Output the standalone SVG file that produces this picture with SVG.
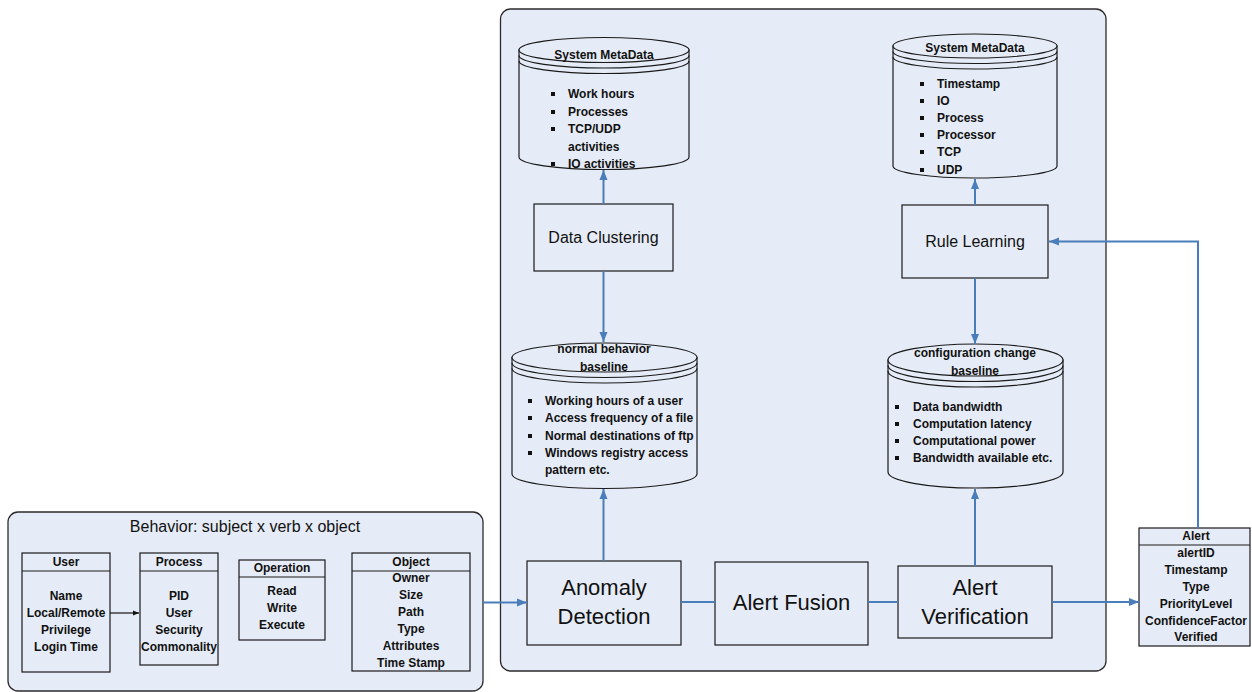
<svg xmlns="http://www.w3.org/2000/svg" width="1252" height="692" viewBox="0 0 1252 692">
<defs>
<style>
.cont{fill:#e6ecf7;stroke:#2b2b2b;stroke-width:1.3}
.box{fill:#e6ecf7;stroke:#1a1a1a;stroke-width:1.2}
.ln{fill:none;stroke:#1a1a1a;stroke-width:1.2}
.conn{fill:none;stroke:#4a7ebb;stroke-width:2}
.b{font-family:"Liberation Sans",Arial,sans-serif;font-weight:bold;font-size:12px;fill:#111}
.c{text-anchor:middle}
.r16{font-family:"Liberation Sans",Arial,sans-serif;font-size:16px;fill:#111;text-anchor:middle}
.r22{font-family:"Liberation Sans",Arial,sans-serif;font-size:22px;fill:#111;text-anchor:middle}
.bul{fill:#111}
</style>
<marker id="ah" viewBox="0 0 10 10" refX="10" refY="5" markerWidth="10" markerHeight="10" markerUnits="userSpaceOnUse" orient="auto">
<path d="M0,1 L10,5 L0,9 Z" fill="#4a7ebb"/>
</marker>
<marker id="ahk" viewBox="0 0 10 10" refX="10" refY="5" markerWidth="7" markerHeight="6" markerUnits="userSpaceOnUse" orient="auto">
<path d="M0,1 L10,5 L0,9 Z" fill="#111"/>
</marker>
</defs>
<rect width="1252" height="692" fill="#ffffff"/>

<g id="container">
<rect class="cont" x="500.5" y="9" width="605.5" height="662" rx="10"/>
</g>

<g id="behavior">
<rect class="cont" x="8" y="512" width="475" height="179" rx="10"/>
<text class="r16" x="245" y="532">Behavior: subject x verb x object</text>
</g>

<g id="user">
<rect class="box" x="22" y="553" width="88" height="119"/>
<line class="ln" x1="22" y1="571" x2="110" y2="571"/>
<text class="b c" x="66" y="566">User</text>
<text class="b c" x="66" y="600">Name</text>
<text class="b c" x="66" y="617">Local/Remote</text>
<text class="b c" x="66" y="634">Privilege</text>
<text class="b c" x="66" y="651">Login Time</text>
</g>

<g id="process">
<rect class="box" x="140" y="553" width="78" height="112"/>
<line class="ln" x1="140" y1="571" x2="218" y2="571"/>
<text class="b c" x="179" y="566">Process</text>
<text class="b c" x="179" y="600">PID</text>
<text class="b c" x="179" y="617">User</text>
<text class="b c" x="179" y="634">Security</text>
<text class="b c" x="179" y="651">Commonality</text>
</g>

<g id="operation">
<rect class="box" x="239" y="560" width="86" height="80"/>
<line class="ln" x1="239" y1="577" x2="325" y2="577"/>
<text class="b c" x="282" y="572">Operation</text>
<text class="b c" x="282" y="595">Read</text>
<text class="b c" x="282" y="612">Write</text>
<text class="b c" x="282" y="629">Execute</text>
</g>

<g id="object">
<rect class="box" x="352" y="553" width="118" height="118"/>
<line class="ln" x1="352" y1="571" x2="470" y2="571"/>
<text class="b c" x="411" y="566">Object</text>
<text class="b c" x="411" y="582">Owner</text>
<text class="b c" x="411" y="599">Size</text>
<text class="b c" x="411" y="616">Path</text>
<text class="b c" x="411" y="633">Type</text>
<text class="b c" x="411" y="650">Attributes</text>
<text class="b c" x="411" y="667">Time Stamp</text>
</g>

<g id="sysmeta-left">
<path class="box" d="M519,50 V157 A85,12.5 0 0 0 689,157 V50 Z"/>
<ellipse class="box" cx="604" cy="50" rx="85" ry="12.5"/>
<path class="ln" d="M519,55.5 A85,12.5 0 0 0 689,55.5 M519,61 A85,12.5 0 0 0 689,61"/>
<text class="b c" x="604" y="59">System MetaData</text>
<rect class="bul" x="551" y="92" width="4" height="4"/>
<text class="b" x="568" y="98">Work hours</text>
<rect class="bul" x="551" y="110" width="4" height="4"/>
<text class="b" x="568" y="116">Processes</text>
<rect class="bul" x="551" y="127" width="4" height="4"/>
<text class="b" x="568" y="133">TCP/UDP</text>
<text class="b" x="568" y="151">activities</text>
<rect class="bul" x="551" y="162" width="4" height="4"/>
<text class="b" x="568" y="168">IO activities</text>
</g>

<g id="sysmeta-right">
<path class="box" d="M893,46 V166 A82,12 0 0 0 1057,166 V46 Z"/>
<ellipse class="box" cx="975" cy="46" rx="82" ry="12"/>
<path class="ln" d="M893,51.5 A82,12 0 0 0 1057,51.5 M893,57 A82,12 0 0 0 1057,57"/>
<text class="b c" x="975" y="52">System MetaData</text>
<rect class="bul" x="920" y="82" width="4" height="4"/>
<text class="b" x="937" y="88">Timestamp</text>
<rect class="bul" x="920" y="99" width="4" height="4"/>
<text class="b" x="937" y="105">IO</text>
<rect class="bul" x="920" y="116" width="4" height="4"/>
<text class="b" x="937" y="122">Process</text>
<rect class="bul" x="920" y="133" width="4" height="4"/>
<text class="b" x="937" y="139">Processor</text>
<rect class="bul" x="920" y="150" width="4" height="4"/>
<text class="b" x="937" y="156">TCP</text>
<rect class="bul" x="920" y="168" width="4" height="4"/>
<text class="b" x="937" y="174">UDP</text>
</g>

<g id="normal-baseline">
<path class="box" d="M512,357.5 V474 A92.5,14.5 0 0 0 697,474 V357.5 Z"/>
<ellipse class="box" cx="604.5" cy="357.5" rx="92.5" ry="14.5"/>
<path class="ln" d="M512,363 A92.5,14.5 0 0 0 697,363 M512,368.5 A92.5,14.5 0 0 0 697,368.5"/>
<text class="b c" x="604" y="353">normal behavior</text>
<text class="b c" x="604" y="371">baseline</text>
<rect class="bul" x="528" y="399" width="4" height="4"/>
<text class="b" x="545" y="405">Working hours of a user</text>
<rect class="bul" x="528" y="416" width="4" height="4"/>
<text class="b" x="545" y="422">Access frequency of a file</text>
<rect class="bul" x="528" y="434" width="4" height="4"/>
<text class="b" x="545" y="440">Normal destinations of ftp</text>
<rect class="bul" x="528" y="451" width="4" height="4"/>
<text class="b" x="545" y="457">Windows registry access</text>
<text class="b" x="545" y="474">pattern etc.</text>
</g>

<g id="config-baseline">
<path class="box" d="M888,360 V472 A87.5,16 0 0 0 1063,472 V360 Z"/>
<ellipse class="box" cx="975.5" cy="360" rx="87.5" ry="16"/>
<path class="ln" d="M888,365.5 A87.5,16 0 0 0 1063,365.5 M888,371 A87.5,16 0 0 0 1063,371"/>
<text class="b c" x="975" y="357">configuration change</text>
<text class="b c" x="975" y="375">baseline</text>
<rect class="bul" x="895" y="405" width="4" height="4"/>
<text class="b" x="913" y="411">Data bandwidth</text>
<rect class="bul" x="895" y="422" width="4" height="4"/>
<text class="b" x="913" y="428">Computation latency</text>
<rect class="bul" x="895" y="439" width="4" height="4"/>
<text class="b" x="913" y="445">Computational power</text>
<rect class="bul" x="895" y="456" width="4" height="4"/>
<text class="b" x="913" y="462">Bandwidth available etc.</text>
</g>

<g id="data-clustering">
<rect class="box" x="534" y="204" width="139" height="67"/>
<text class="r16" x="603.5" y="243">Data Clustering</text>
</g>

<g id="rule-learning">
<rect class="box" x="902" y="205" width="146" height="73"/>
<text class="r16" x="975" y="247">Rule Learning</text>
</g>

<g id="anomaly-detection">
<rect class="box" x="527" y="561" width="154" height="84"/>
<text class="r22" x="604" y="595">Anomaly</text>
<text class="r22" x="604" y="624">Detection</text>
</g>

<g id="alert-fusion">
<rect class="box" x="715" y="562" width="153" height="83"/>
<text class="r22" x="791.5" y="610">Alert Fusion</text>
</g>

<g id="alert-verification">
<rect class="box" x="898" y="566" width="154" height="72"/>
<text class="r22" x="975" y="595">Alert</text>
<text class="r22" x="975" y="624">Verification</text>
</g>

<g id="alert">
<rect class="box" x="1139" y="528" width="111" height="118"/>
<line class="ln" x1="1139" y1="545" x2="1250" y2="545"/>
<text class="b c" x="1196" y="540">Alert</text>
<text class="b c" x="1196" y="557">alertID</text>
<text class="b c" x="1196" y="574">Timestamp</text>
<text class="b c" x="1196" y="591">Type</text>
<text class="b c" x="1196" y="608">PriorityLevel</text>
<text class="b c" x="1196" y="625" font-size="11.5">ConfidenceFactor</text>
<text class="b c" x="1196" y="641">Verified</text>
</g>

<g id="connectors">
<line x1="110" y1="613" x2="139" y2="613" stroke="#111" stroke-width="1.2" marker-end="url(#ahk)"/>
<path class="conn" d="M483,602.5 H527" marker-end="url(#ah)"/>
<path class="conn" d="M681,602 H715"/>
<path class="conn" d="M868,602 H898"/>
<path class="conn" d="M1052,602 H1139" marker-end="url(#ah)"/>
<path class="conn" d="M1198,528 V241.5 H1049" marker-end="url(#ah)"/>
<path class="conn" d="M603.5,204 V170" marker-end="url(#ah)"/>
<path class="conn" d="M603.5,271 V342" marker-end="url(#ah)"/>
<path class="conn" d="M975,205 V179" marker-end="url(#ah)"/>
<path class="conn" d="M975,278 V344" marker-end="url(#ah)"/>
<path class="conn" d="M603.5,561 V489" marker-end="url(#ah)"/>
<path class="conn" d="M975,566 V489" marker-end="url(#ah)"/>
</g>
</svg>
